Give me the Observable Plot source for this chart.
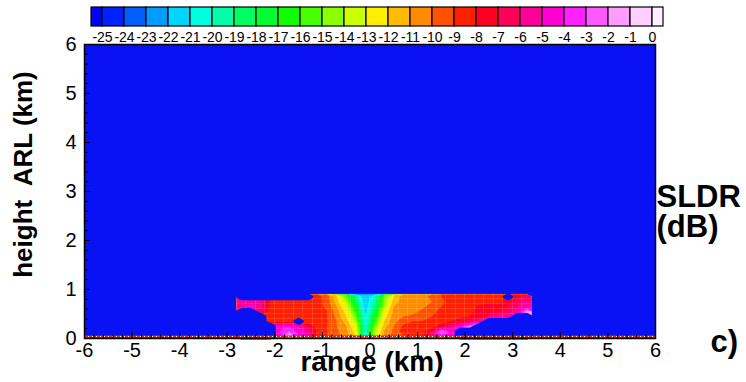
<!DOCTYPE html>
<html><head><meta charset="utf-8">
<script src="https://cdn.jsdelivr.net/npm/d3@7"></script>
<script src="https://cdn.jsdelivr.net/npm/@observablehq/plot@0.6"></script>
<style>
body{margin:0;background:#fff}
#wrap{position:relative;width:746px;height:382px;overflow:hidden}
#legend{position:absolute;left:0;top:0}
#main{position:absolute;left:0;top:0}
</style>
</head><body>
<div id="wrap"><div id="main"></div><div id="legend"></div></div>
<script>
const N = NaN;
// colour levels (dB) and the 27 legend colours
const levels = [-25,-24,-23,-22,-21,-20,-19,-18,-17,-16,-15,-14,-13,-12,-11,-10,-9,-8,-7,-6,-5,-4,-3,-2,-1,0];
const levelColors = ["#0000ff","#0022ff","#0060ff","#009cff","#00d4ff","#00ffe0","#00ffa8","#00ff60","#00ff30","#10ff00","#48ff00","#8cff00","#ccff00","#ffee00","#ffbb00","#ff8c00","#ff5200","#ff2000","#ff0024","#ff0058","#ff0098","#ff00d4","#ff20ff","#ff58ff","#ff9cff","#ffd0ff","#fff0ff"];
const backgroundBlue = "#0812f4";

// grid of SLDR (dB) : range (km) columns, height (km) rows, NaN = no echo
const ranges = [-2.7,-2.5,-2.3,-2.1,-1.9,-1.7,-1.5,-1.3,-1.1,-0.9,-0.7,-0.5,-0.3,-0.1,0.1,0.3,0.5,0.7,0.9,1.1,1.3,1.5,1.7,1.9,2.1,2.3,2.5,2.7,2.9,3.1,3.3];
const heights = [0.05,0.15,0.25,0.35,0.45,0.55,0.65,0.75,0.85];
const row085 = [N,N,N,N,N,N,N,N,-8.5,-9.5,-12,-15,-19,-22,-20,-15,-12,-10.5,-10.5,-10.3,-9.8,-9,-8.7,-8.5,-8.6,-8.5,-8.5,-8.6,N,-7.5,-6.5];
const row075 = [-5.5,-5,-6,-8,-8.5,-8.5,-8.5,-8.5,-8.5,-9.5,-11.5,-14,-18,-22,-19.5,-14.5,-11.5,-10.5,-10.8,-10.5,-10,-9.2,-8.6,-8.5,-8.5,-8.4,-8.3,-8.3,-7.5,-6.5,-5.5];
const row065 = [-6,-4.5,-5.5,-8.3,-8.6,-8.5,-8.6,-8.5,-8.5,-9.3,-11,-13,-17,-21.5,-19,-14,-11,-10.5,-10.6,-10.2,-9.6,-9,-8.5,-8.4,-8.4,-7.8,-7.6,-7.8,-7,-6,-5];
const row055 = [N,N,-6.5,-8.5,-8.6,-8.5,-8.5,-8.4,-8.3,-9,-10.5,-12.5,-16,-21.5,-18,-13,-10.8,-10.3,-10.3,-9.8,-9.2,-8.8,-8.5,-8.3,-8.3,-7.6,-7.5,-7.2,-6.5,-5.5,-1.5];
const row045 = [N,N,N,-8.4,-8.5,-8.6,-8.8,-8.5,-8.3,-9,-10.3,-12,-15,-21,-17,-12.5,-10.5,-10,-9.8,-9.5,-9,-8.6,-8.3,-8.2,-8,-8,-6,-5.5,-5,N,N];
const row035 = [N,N,N,-8.6,-8.5,-8.4,N,-8.6,-8.5,-9,-10,-11.5,-14,-21,-16,-12,-10.3,-9.5,-9,-9,-8.8,-8.3,-8,-7.5,-6.5,-5,N,N,N,N,N];
const row025 = [N,N,N,N,-4.5,-4,-5,-7,-8.5,-9,-10,-11,-13,-20.5,-15,-11.5,-10,-8.8,-8.5,-8.6,-8.5,-7.5,-6,-4.5,-2,N,N,N,N,N,N];
const row015 = [N,N,N,N,-4,-3,-4.5,-5.5,-8.5,-9,-9.8,-10.8,-12.5,-20.5,-14,-11,-9.8,-8.5,-8.5,-8.5,-7,-2,-4.5,N,N,N,N,N,N,N,N];
const row005 = [N,N,N,N,-4.5,-1,-4,-5,-8.5,-9,-9.6,-10.5,-12,-21,-14,-10.8,-9.5,-9.2,-9,-8,-6,-3.5,-4.5,N,N,N,N,N,N,N,N];
const groundLevel = [0.04];

const xTicks = [-6,-5,-4,-3,-2,-1,0,1,2,3,4,5,6];
const yTicks = [0,1,2,3,4,5,6];

// grid, bottom row first; mask marks the cells with no echo
const rowsBottomUp = [row005,row015,row025,row035,row045,row055,row065,row075,row085];
const grid = rowsBottomUp.flat();
const mask = grid.map(v => isNaN(v) ? 1 : 0);
const dxr = ranges[1]-ranges[0], dyh = heights[1]-heights[0];
const gridExtent = {
  width: ranges.length, height: heights.length,
  x1: ranges[0]-dxr/2, x2: ranges[ranges.length-1]+dxr/2,
  y1: heights[0]-dyh/2, y2: heights[heights.length-1]+dyh/2
};
// echo cells (for the faint mesh lines of the original plot)
const cells = [];
rowsBottomUp.forEach((row, j) => row.forEach((v, i) => {
  if (!isNaN(v)) cells.push({r: ranges[i], h: heights[j]});
}));

const font = "'Liberation Sans', Arial, sans-serif";

const main = Plot.plot({
  width: 746, height: 382,
  marginLeft: 84, marginRight: 91, marginTop: 44, marginBottom: 44,
  style: {fontFamily: font, fontSize: "20px", color: "black", background: "transparent"},
  x: {domain: [-6, 6], label: null},
  y: {domain: [0, 6], label: null},
  color: {type: "threshold", domain: levels, range: levelColors},
  marks: [
    Plot.frame({fill: backgroundBlue}),
    Plot.contour(grid, {...gridExtent, fill: Plot.identity, thresholds: levels}),
    Plot.rect(cells, {x1: d => d.r - dxr/2, x2: d => d.r + dxr/2, y1: d => d.h - dyh/2, y2: d => d.h + dyh/2,
      fill: "none", stroke: "white", strokeOpacity: 0.1, strokeWidth: 0.7}),
    Plot.contour(mask, {...gridExtent, value: Plot.identity, thresholds: [0.5], fill: backgroundBlue, stroke: backgroundBlue, strokeWidth: 2}),
    Plot.ruleY(groundLevel, {stroke: "#ff1a00", strokeWidth: 2}),
    Plot.ruleY(groundLevel, {stroke: "white", strokeWidth: 1, strokeDasharray: "1,3"}),
    Plot.axisX({ticks: 60, tickSize: -3.5, tickFormat: () => ""}),
    Plot.axisX(xTicks, {tickSize: -6, tickPadding: 10, tickFormat: d => String(d), fontSize: 20}),
    Plot.axisY({ticks: 30, tickSize: -3.5, tickFormat: () => ""}),
    Plot.axisY(yTicks, {tickSize: -6, tickPadding: 14, tickFormat: d => String(d), fontSize: 20}),
    Plot.frame({stroke: "black", strokeWidth: 1.5}),
    Plot.text(["range (km)"], {frameAnchor: "bottom", textAnchor: "middle", dx: 2, dy: 32, fontSize: 28, fontWeight: "bold"}),
    Plot.text(["height\u00a0 ARL (km)"], {frameAnchor: "left", textAnchor: "middle", rotate: -90, dx: -61, dy: -17, fontSize: 26, fontWeight: "bold"}),
    Plot.text(["SLDR\n(dB)"], {frameAnchor: "right", textAnchor: "start", dx: 1, dy: 21, fontSize: 31, fontWeight: "bold", lineHeight: 0.97}),
    Plot.text(["c)"], {frameAnchor: "bottom-right", textAnchor: "start", dx: 55, dy: 13, fontSize: 31, fontWeight: "bold"})
  ]
});
document.getElementById("main").appendChild(main);

// legend
const bins = levelColors.map((c, i) => ({
  lo: i === 0 ? levels[0] - 0.5 : levels[i-1],
  hi: i === levels.length ? levels[levels.length-1] + 0.5 : levels[i],
  color: c
}));
const legend = Plot.plot({
  width: 746, height: 44,
  marginLeft: 91, marginRight: 83, marginTop: 7, marginBottom: 18,
  style: {fontFamily: font, fontSize: "14px", color: "black", background: "transparent"},
  x: {domain: [levels[0]-0.5, levels[levels.length-1]+0.5], label: null},
  y: {domain: [0, 1], axis: null},
  color: {type: "identity"},
  marks: [
    Plot.rect(bins, {x1: "lo", x2: "hi", y1: 0, y2: 1, fill: "color", stroke: "black", strokeWidth: 1.2}),
    Plot.axisX(levels, {tickSize: 0, tickPadding: 6, tickFormat: d => String(d), fontSize: 14})
  ]
});
document.getElementById("legend").appendChild(legend);
</script>
</body></html>
